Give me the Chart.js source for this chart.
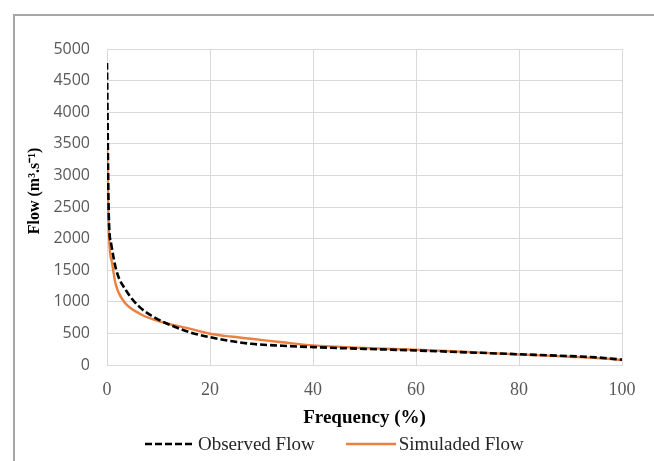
<!DOCTYPE html>
<html>
<head>
<meta charset="utf-8">
<script src="https://cdn.jsdelivr.net/npm/chart.js@4.4.1/dist/chart.umd.min.js"></script>
<style>
  html, body { margin: 0; padding: 0; background: #fff; }
  #wrap { position: relative; width: 654px; height: 461px; overflow: hidden; }
  #frame { position: absolute; left: 13px; top: 14px; width: 700px; height: 500px;
           border-left: 2px solid #a6a6a6; border-top: 2px solid #a6a6a6; }
  canvas { position: absolute; left: 0; top: 0; }
  #legend { position: absolute; left: 145px; top: 433px; display: flex; align-items: center;
            font-family: 'Liberation Serif', serif; font-size: 19px; color: #262626; white-space: nowrap; }
  #legend .item { display: flex; align-items: center; }
  #legend .item + .item { margin-left: 31px; }
  #legend svg { margin-right: 3px; }
</style>
</head>
<body>
<div id="wrap">
  <div id="frame"></div>
  <canvas id="flow-chart" width="654" height="461"></canvas>
  <div id="legend"></div>
</div>
<script>
// exceedance frequency (%) and flow (m3/s)
const freqObserved = [0, 0.35, 0.8, 1.8, 3.7, 6.3, 9.6, 13, 16, 20, 24, 28, 34, 40, 50, 60, 70, 80, 90, 95, 100];
const flowObserved = [4780, 2350, 1920, 1500, 1180, 920, 735, 610, 520, 440, 380, 335, 305, 283, 255, 230, 200, 170, 140, 120, 85];

const freqSimulated = [0, 0.4, 1.0, 1.65, 3.1, 6.3, 9.6, 13, 16, 20, 24, 28, 34, 40, 50, 60, 70, 80, 90, 95, 100];
const flowSimulated = [3510, 2030, 1610, 1290, 1025, 815, 705, 630, 575, 495, 450, 415, 360, 310, 270, 241, 205, 167, 130, 110, 80];

const seriesNames = ['Observed Flow', 'Simuladed Flow'];
const xTitle = 'Frequency (%)';
// the em spaces push the title a little above the axis middle, as in the original
const yTitle = '\u2003\u2003Flow (m³.s⁻¹)';

const toPoints = (xs, ys) => xs.map((x, i) => ({ x: x, y: ys[i] }));

const ctx = document.getElementById('flow-chart').getContext('2d');

const chart = new Chart(ctx, {
  type: 'line',
  data: {
    datasets: [{
      label: seriesNames[0],
      data: toPoints(freqObserved, flowObserved),
      borderColor: '#000000',
      borderWidth: 2.6,
      borderDash: [7, 3],
      pointRadius: 0,
      fill: false,
      cubicInterpolationMode: 'monotone'
    }, {
      label: seriesNames[1],
      data: toPoints(freqSimulated, flowSimulated),
      borderColor: '#EB8040',
      borderWidth: 2.4,
      pointRadius: 0,
      fill: false,
      cubicInterpolationMode: 'monotone'
    }]
  },
  options: {
    responsive: false,
    animation: false,
    layout: { padding: { left: 14, top: 49, right: 32, bottom: 32 } },
    plugins: {
      legend: { display: false },
      tooltip: { enabled: false }
    },
    scales: {
      x: {
        type: 'linear',
        min: 0,
        max: 100,
        ticks: {
          stepSize: 20,
          padding: 14,
          color: '#595959',
          font: { family: 'Liberation Serif', size: 18 }
        },
        grid: { color: '#d9d9d9', drawTicks: false },
        border: { color: '#d9d9d9' },
        title: {
          display: true,
          text: xTitle,
          color: '#000',
          font: { family: 'Liberation Serif', size: 19, weight: 'bold' },
          padding: { top: 0, bottom: 0 }
        },
        afterFit: function(scale) { scale.height = 64; }
      },
      y: {
        min: 0,
        max: 5000,
        ticks: {
          stepSize: 500,
          padding: 17,
          color: '#595959',
          font: { family: 'Open Sans', size: 16 },
          callback: function(value) { return String(value); }
        },
        grid: { color: '#d9d9d9', drawTicks: false },
        border: { color: '#d9d9d9' },
        title: {
          display: true,
          text: yTitle,
          color: '#000',
          font: { family: 'Liberation Serif', size: 16, weight: 'bold' },
          padding: { top: 11, bottom: 0 }
        },
        afterFit: function(scale) { scale.width = 93; }
      }
    }
  }
});

// html legend built from the datasets
const legendEl = document.getElementById('legend');
chart.data.datasets.forEach(function(ds) {
  const item = document.createElement('div');
  item.className = 'item';
  const dash = ds.borderDash ? ds.borderDash.join(' ') : 'none';
  item.innerHTML =
    '<svg width="50" height="6"><line x1="0" y1="3" x2="50" y2="3" stroke="' + ds.borderColor +
    '" stroke-width="' + ds.borderWidth + '" stroke-dasharray="' + dash + '"/></svg>' +
    '<span>' + ds.label + '</span>';
  legendEl.appendChild(item);
});
</script>
</body>
</html>
